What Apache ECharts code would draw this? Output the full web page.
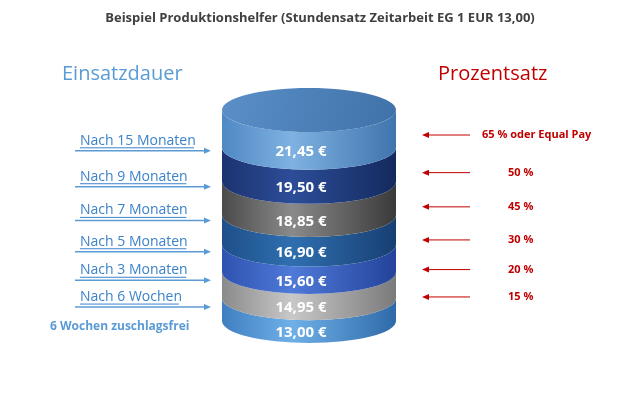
<!DOCTYPE html>
<html><head><meta charset="utf-8">
<script src="https://cdn.jsdelivr.net/npm/echarts@6/dist/echarts.min.js"></script>
<style>html,body{margin:0;background:#fff}#c{width:640px;height:401px}</style>
</head><body><div id="c"></div>
<script>
// bottom to top
const wages = [13.00, 14.95, 15.60, 16.90, 18.85, 19.50, 21.45]
const durations = ['6 Wochen zuschlagsfrei', 'Nach 6 Wochen', 'Nach 3 Monaten', 'Nach 5 Monaten', 'Nach 7 Monaten', 'Nach 9 Monaten', 'Nach 15 Monaten']
const percents = ['', '15 %', '20 %', '30 %', '45 %', '50 %', '65 % oder Equal Pay']
const colors = [
  ['#3f7fc0', '#6fb0e8', '#2e6aa8'],
  ['#8a8a8a', '#c8c8c8', '#7a7a7a'],
  ['#2f52b0', '#4f7ad8', '#24439a'],
  ['#1e4f8a', '#2f6fb0', '#173f72'],
  ['#4a4a4a', '#8a8a8a', '#3a3a3a'],
  ['#1c3370', '#2c4d98', '#142a5e'],
  ['#4f88c4', '#7fb2e2', '#3f74ad']
]

let acc = 0
const segs = wages.map((v, i) => { const s = [i, acc, acc + v]; acc += v; return s })
const total = acc

const fmt = v => v.toFixed(2).replace('.', ',') + ' €'
const grad = c => ({type: 'linear', x: 0, y: 0, x2: 1, y2: 0, colorStops: [
  {offset: 0, color: c[0]}, {offset: 0.4, color: c[1]}, {offset: 1, color: c[2]}]})

const chart = echarts.init(document.getElementById('c'))
chart.setOption({
  backgroundColor: '#fff',
  animation: false,
  title: {text: 'Beispiel Produktionshelfer (Stundensatz Zeitarbeit EG 1 EUR 13,00)', left: 'center', top: 7,
    textStyle: {fontFamily: 'Open Sans', fontSize: 13, fontWeight: 'bold', color: '#404040'}},
  graphic: [
    {type: 'text', left: 62, top: 64, style: {text: 'Einsatzdauer', fontFamily: 'Open Sans', fontSize: 20, fill: '#5b9bd5'}},
    {type: 'text', left: 438, top: 64, style: {text: 'Prozentsatz', fontFamily: 'Open Sans', fontSize: 20, fill: '#c00000'}}
  ],
  grid: {left: 222, right: 244, top: 132, bottom: 58},
  xAxis: {type: 'value', min: 0, max: 1, show: false},
  yAxis: {type: 'value', min: 0, max: total, show: false},
  series: [{
    type: 'custom',
    data: segs,
    renderItem(params, api) {
      const i = api.value(0)
      const yb = api.coord([0.5, api.value(1)])[1]
      const yt = api.coord([0.5, api.value(2)])[1]
      const L = api.coord([0, 0])[0], R = api.coord([1, 0])[0]
      const rx = (R - L) / 2, ry = 22, cx = (L + R) / 2
      const c = colors[i]
      const kids = [{
        type: 'path',
        shape: {pathData: `M ${L} ${yt - ry} A ${rx} ${ry} 0 0 0 ${R} ${yt - ry} L ${R} ${yb - ry} A ${rx} ${ry} 0 0 1 ${L} ${yb - ry} Z`},
        style: {fill: grad(c)}
      }, {
        type: 'text', x: cx - 8, y: (yt + yb) / 2 + 1,
        style: {text: fmt(wages[i]), fill: '#fff', fontFamily: 'Open Sans', fontSize: 15, fontWeight: 'bold', align: 'center', verticalAlign: 'middle'}
      }]
      if (i === wages.length - 1) {
        kids.push({type: 'ellipse', shape: {cx: cx, cy: yt - ry, rx: rx, ry: ry},
          style: {fill: {type: 'linear', x: 0, y: 0, x2: 1, y2: 1, colorStops: [{offset: 0, color: '#5a8fc8'}, {offset: 1, color: '#3f72a8'}]}}})
      }
      const my = (yt + yb) / 2
      if (i === 0) {
        kids.push({type: 'text', x: 50, y: my - 5, style: {text: durations[i], fill: '#5b9bd5', fontFamily: 'Open Sans', fontSize: 12, fontWeight: 'bold', verticalAlign: 'middle'}})
      } else {
        const ay = my
        kids.push({type: 'text', x: 80, y: ay - 3, style: {text: durations[i], fill: '#3c82c8', fontFamily: 'Open Sans', fontSize: 14, verticalAlign: 'bottom'}})
        kids.push({type: 'line', shape: {x1: 80, y1: ay - 3, x2: 80 + 7.6 * durations[i].length, y2: ay - 3}, style: {stroke: '#3c82c8', lineWidth: 1}})
        kids.push({type: 'line', shape: {x1: 75, y1: ay, x2: 206, y2: ay}, style: {stroke: '#5b9bd5', lineWidth: 1.5}})
        kids.push({type: 'polygon', shape: {points: [[211, ay], [204, ay - 3], [204, ay + 3]]}, style: {fill: '#5b9bd5'}})
        const ry2 = yt + 3
        kids.push({type: 'line', shape: {x1: 428, y1: ry2, x2: 470, y2: ry2}, style: {stroke: '#c00000', lineWidth: 1}})
        kids.push({type: 'polygon', shape: {points: [[422, ry2], [429, ry2 - 3], [429, ry2 + 3]]}, style: {fill: '#c00000'}})
        kids.push({type: 'text', x: i === wages.length - 1 ? 482 : 508, y: ry2, style: {text: percents[i], fill: '#c00000', fontFamily: 'Open Sans', fontSize: 11, fontWeight: 'bold', verticalAlign: 'middle'}})
      }
      return {type: 'group', children: kids}
    }
  }]
})
</script></body></html>
